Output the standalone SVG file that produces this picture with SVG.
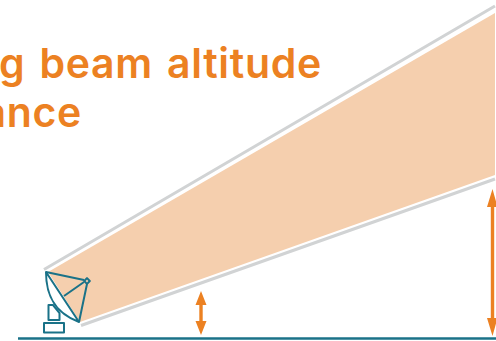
<svg xmlns="http://www.w3.org/2000/svg" width="496" height="341" viewBox="0 0 496 341">
<style>
.t{font-family:"Inter","Liberation Sans",sans-serif;font-size:41px;font-weight:600;fill:#ec8122;letter-spacing:.7px;word-spacing:3px}
.g{stroke:#d1d3d4;stroke-width:3;fill:none}
.a{stroke:#ec8122;stroke-width:3.400;fill:none}
.h{fill:#ec8122}
.d{stroke:#1a7288;stroke-width:2;fill:none;stroke-linejoin:round}
</style>
<rect width="496" height="341" fill="#fff"/>
<g id="title">
<text class="t" x="322" y="78" text-anchor="end">g beam altitude</text>
<text class="t" x="82" y="127" text-anchor="end">ance</text>
</g>
<g id="beam">
<polygon points="48,272 495,13 495,175 80,322" fill="#f5cfae"/>
<path class="g" d="M44,269.500L495,6M81,325.500L495,179"/>
</g>
<g id="ground"><path d="M18,338.500H496" stroke="#1a7288" stroke-width="2.400"/></g>
<g id="dish">
<path d="M46,272C46,292 52,312 79,322Z" class="d" style="fill:#fff"/>
<path class="d" d="M46,272L84,280M87,284L79,322M64,296L84,282"/>
<rect class="d" x="85" y="279" width="4" height="4" transform="rotate(45 87 281)"/>
<path class="d" d="M48.500,305H53L59.500,313V320H48.500Z"/>
<rect class="d" x="44" y="323" width="20" height="9.500"/>
</g>
<g id="connectors">
<path class="a" d="M201,302V324"/>
<path class="h" d="M201,291L206.500,305H195.500ZM201,335L206.500,321H195.500Z"/>
<path class="a" d="M492.500,200V325"/>
<path class="h" d="M492.500,189L497.500,207H487ZM492.500,336L497.500,318H487Z"/>
</g>
</svg>
